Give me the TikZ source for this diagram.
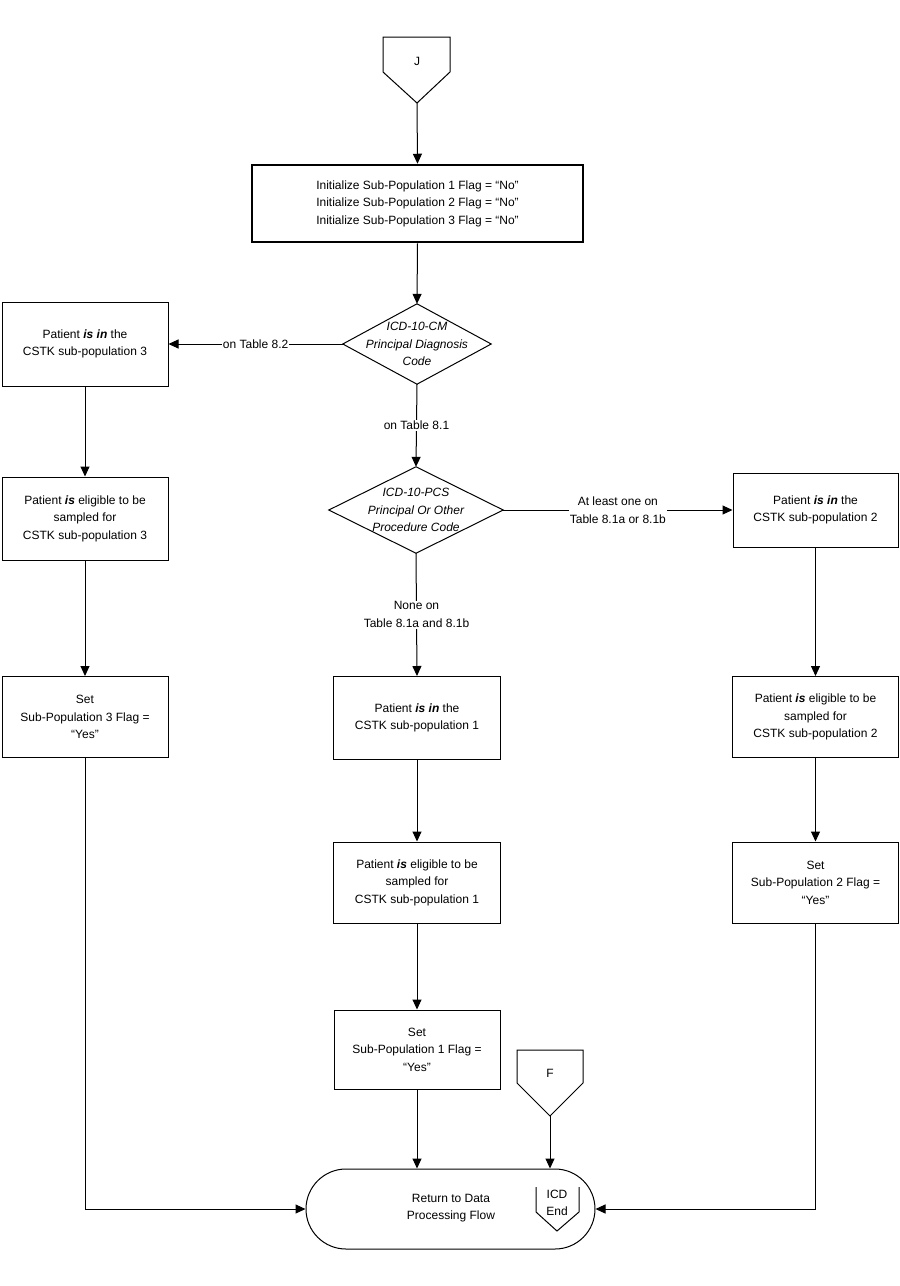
\documentclass[tikz,border=0pt]{standalone}
\usepackage{fontspec}
\setmainfont{Liberation Sans}
\usetikzlibrary{arrows.meta}
\begin{document}
\begin{tikzpicture}[x=1pt,y=-1pt,
  every node/.style={font=\fontsize{12}{17.5}\selectfont, align=center},
  box/.style={draw, line width=1pt, inner sep=0pt, minimum width=166pt},
  initbox/.style={draw, line width=2.5pt, inner sep=0pt},
  dec/.style={inner sep=0pt, font=\fontsize{12}{17.5}\selectfont\itshape},
  term/.style={draw, line width=1pt, rounded corners=40pt, inner sep=0pt},
  arr/.style={line width=1pt, -{Triangle[length=10pt,width=9pt]}},
  ln/.style={line width=1pt},
  lbl/.style={fill=white, inner sep=1pt},
  conn/.style={draw, line width=1pt}
]
\useasboundingbox (0,0) rectangle (900,1286);
\fill[white] (0,0) rectangle (900,1286);

% J off-page connector
\draw[conn] (383,37) -- (450,37) -- (450,72) -- (417,103) -- (383,72) -- cycle;
\node (Jt) at (417,61) {J};
\coordinate (Jtip) at (417,103);

\node[initbox, minimum width=331pt, minimum height=77pt] (init) at (417.5,203.5)
  {Initialize Sub-Population 1 Flag = “No”\\Initialize Sub-Population 2 Flag = “No”\\Initialize Sub-Population 3 Flag = “No”};

\node[dec, minimum width=148pt, minimum height=80pt] (d1) at (417,344)
  {ICD-10-CM\\Principal Diagnosis\\Code};
\draw[ln] (d1.north) -- (d1.east) -- (d1.south) -- (d1.west) -- cycle;
\node[dec, minimum width=174pt, minimum height=86pt] (d2) at (416,510)
  {ICD-10-PCS\\Principal Or Other\\Procedure Code};
\draw[ln] (d2.north) -- (d2.east) -- (d2.south) -- (d2.west) -- cycle;

% left column
\node[box, minimum height=84pt] (b3a) at (85,344)
  {Patient \textbf{\textit{is in}} the\\CSTK sub-population 3};
\node[box, minimum height=83pt] (b3b) at (85,518.5)
  {Patient \textbf{\textit{is}} eligible to be\\sampled for\\CSTK sub-population 3};
\node[box, minimum height=81pt] (b3c) at (85,717)
  {Set\\Sub-Population 3 Flag =\\“Yes”};

% middle column
\node[box, minimum width=167pt, minimum height=83pt] (b1a) at (417,718)
  {Patient \textbf{\textit{is in}} the\\CSTK sub-population 1};
\node[box, minimum width=167pt, minimum height=81pt] (b1b) at (417,882.5)
  {Patient \textbf{\textit{is}} eligible to be\\sampled for\\CSTK sub-population 1};
\node[box, minimum height=79pt] (b1c) at (417,1049.5)
  {Set\\Sub-Population 1 Flag =\\“Yes”};

% right column
\node[box, minimum width=165pt, minimum height=74pt] (b2a) at (815.5,510)
  {Patient \textbf{\textit{is in}} the\\CSTK sub-population 2};
\node[box, minimum height=81pt] (b2b) at (815.5,717)
  {Patient \textbf{\textit{is}} eligible to be\\sampled for\\CSTK sub-population 2};
\node[box, minimum height=81pt] (b2c) at (815.5,882.5)
  {Set\\Sub-Population 2 Flag =\\“Yes”};

% terminal
\node[term, minimum width=289pt, minimum height=80pt] (term) at (450.5,1209) {};
\node (termtxt) at (451,1208) {Return to Data\\Processing Flow};
\draw[ln] (536,1187) -- (536,1212) -- (557,1231) -- (579,1212) -- (579,1187);
\node[inner sep=0pt] (icd) at (557,1203) {ICD\\End};

% F connector
\draw[conn] (517,1050) -- (583,1050) -- (583,1083) -- (550,1116) -- (517,1083) -- cycle;
\node (Ft) at (550,1073) {F};
\coordinate (Ftip) at (550,1116);

% connectors
\draw[arr] (Jtip) -- (init.north);
\draw[arr] (init.south) -- (d1.north);
\draw[arr] (d1.west) -- node[lbl] {on Table 8.2} (b3a.east);
\draw[arr] (d1.south) -- node[lbl] {on Table 8.1} (d2.north);
\draw[arr] (d2.east) -- node[lbl] {At least one on\\Table 8.1a or 8.1b} (b2a.west);
\draw[arr] (d2.south) -- node[lbl] {None on\\Table 8.1a and 8.1b} (b1a.north);

\draw[arr] (b3a) -- (b3b);
\draw[arr] (b3b) -- (b3c);
\draw[arr] (b3c.south) |- (term.west);

\draw[arr] (b1a) -- (b1b);
\draw[arr] (b1b) -- (b1c);
\draw[arr] (b1c.south) -- (b1c.south |- term.north);

\draw[arr] (b2a) -- (b2b);
\draw[arr] (b2b) -- (b2c);
\draw[arr] (b2c.south) |- (term.east);

\draw[arr] (Ftip) -- (Ftip |- term.north);
\end{tikzpicture}
\end{document}
